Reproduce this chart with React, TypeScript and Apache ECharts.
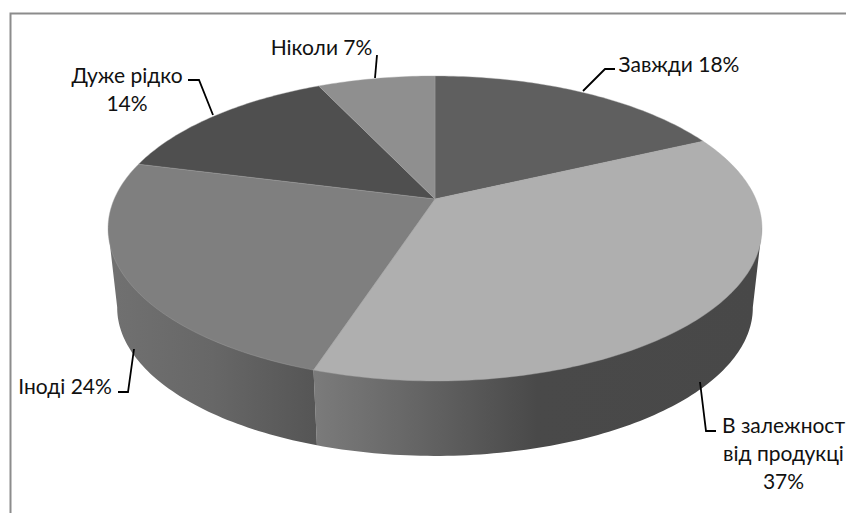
import React, { useEffect, useRef } from "react";
import * as echarts from "echarts";

// Survey answers, in clockwise order from twelve o'clock.
const categories = ["Завжди", "В залежност\nвід продукці", "Іноді", "Дуже рідко", "Ніколи"];
const shares = [18, 37, 24, 14, 7];
const labelSeparators = [" ", "\n", " ", "\n", " "];

const topColors = ["#5f5f5f", "#afafaf", "#7f7f7f", "#4f4f4f", "#8f8f8f"];
const wallStops: [number, string][][] = [
  [[0, "#5a5a5a"], [1, "#5a5a5a"]],
  [[0, "#7b7b7b"], [0.2, "#686868"], [0.5, "#494949"], [1, "#484848"]],
  [[0, "#717171"], [0.5, "#676767"], [1, "#555555"]],
  [[0, "#707070"], [1, "#707070"]],
  [[0, "#707070"], [1, "#707070"]],
];

// Label anchors and leader lines, in page pixels.
const labelAnchors: [number, number][] = [
  [679, 63],
  [783.5, 452],
  [65, 385],
  [127, 88.5],
  [321.5, 46],
];
const leaderLines: [number, number][][] = [
  [[583, 91], [605, 69], [615, 69]],
  [[700, 382], [706, 431], [716, 431]],
  [[134, 349], [128, 392], [118, 392]],
  [[213, 115], [199, 80], [188, 80]],
  [[375, 78], [377, 55]],
];

// Perspective view of the disc: the far edge is foreshortened.
const APEX_X = 435;
const APEX_Y = 199;
const HALF_W = 320.8;
const HALF_H = 146.8;
const TILT = 0.1934;
const BASE_SCALE = 0.972;
const BASE_DROP = 80;
// Angles where the rim's outline is tangent to the disc; the wall spans them.
const WALL_FROM = 101;
const WALL_TO = 259;

function project(deg: number, scale: number, drop: number): [number, number] {
  const a = (deg * Math.PI) / 180;
  const u = Math.sin(a);
  const v = Math.cos(a);
  const w = 1 + TILT * v;
  return [APEX_X + (scale * HALF_W * u) / w, APEX_Y + drop - (scale * HALF_H * v) / w];
}

function arcPoints(from: number, to: number, scale: number, drop: number) {
  const pts: [number, number][] = [];
  const steps = Math.max(1, Math.ceil(Math.abs(to - from)));
  for (let i = 0; i <= steps; i++) {
    pts.push(project(from + ((to - from) * i) / steps, scale, drop));
  }
  return pts;
}

const total = shares.reduce((s, v) => s + v, 0);
let running = 0;
const sliceData = shares.map((v, i) => {
  const start = (running / total) * 360;
  running += v;
  return { name: categories[i], value: [start, (running / total) * 360, v, i] };
});

export default function App() {
  const ref = useRef<HTMLDivElement>(null);

  useEffect(() => {
    document.body.style.margin = "0";
    const chart = echarts.init(ref.current!, undefined, { renderer: "svg" });
    chart.setOption({
      animation: false,
      backgroundColor: "#ffffff",
      graphic: [
        {
          type: "polyline",
          silent: true,
          shape: { points: [[10.5, 513], [10.5, 13.5], [846, 13.5]] },
          style: { fill: "none", stroke: "#8c8c8c", lineWidth: 2 },
        },
      ],
      series: [
        {
          type: "custom",
          coordinateSystem: "none",
          silent: true,
          data: sliceData,
          renderItem: (_: unknown, api: any) => {
            const i = api.value(3);
            const from = Math.max(api.value(0), WALL_FROM);
            const to = Math.min(api.value(1), WALL_TO);
            if (from >= to) return { type: "group", children: [] };
            // Base arc closed through the upper rim; the disc covers the chord.
            return {
              type: "polygon",
              shape: {
                points: [
                  project(from, 1, 0),
                  ...arcPoints(from, to, BASE_SCALE, BASE_DROP),
                  project(to, 1, 0),
                ],
              },
              style: {
                fill: new echarts.graphic.LinearGradient(
                  0, 0, 1, 0,
                  wallStops[i].map(([offset, color]) => ({ offset, color })),
                ),
              },
            };
          },
        },
        {
          type: "custom",
          coordinateSystem: "none",
          silent: true,
          data: sliceData,
          renderItem: (_: unknown, api: any) => {
            const i = api.value(3);
            return {
              type: "polygon",
              shape: {
                points: [[APEX_X, APEX_Y], ...arcPoints(api.value(0), api.value(1), 1, 0)],
              },
              style: { fill: topColors[i], stroke: "#a4a4a4", lineWidth: 0.4 },
            };
          },
        },
        {
          type: "custom",
          coordinateSystem: "none",
          silent: true,
          data: sliceData,
          renderItem: (_: unknown, api: any) => {
            const i = api.value(3);
            const [x, y] = labelAnchors[i];
            return {
              type: "group",
              children: [
                {
                  type: "polyline",
                  shape: { points: leaderLines[i] },
                  style: { fill: "none", stroke: "#000000", lineWidth: 1.8 },
                },
                {
                  type: "text",
                  x,
                  y,
                  style: {
                    text: `${categories[i]}${labelSeparators[i]}${api.value(2)}%`,
                    fill: "#111111",
                    font: '21px Lato, "Noto Sans", sans-serif',
                    lineHeight: 28,
                    align: "center",
                    verticalAlign: "middle",
                  },
                },
              ],
            };
          },
        },
      ],
    });
    return () => chart.dispose();
  }, []);

  return <div ref={ref} style={{ width: 846, height: 513 }} />;
}
